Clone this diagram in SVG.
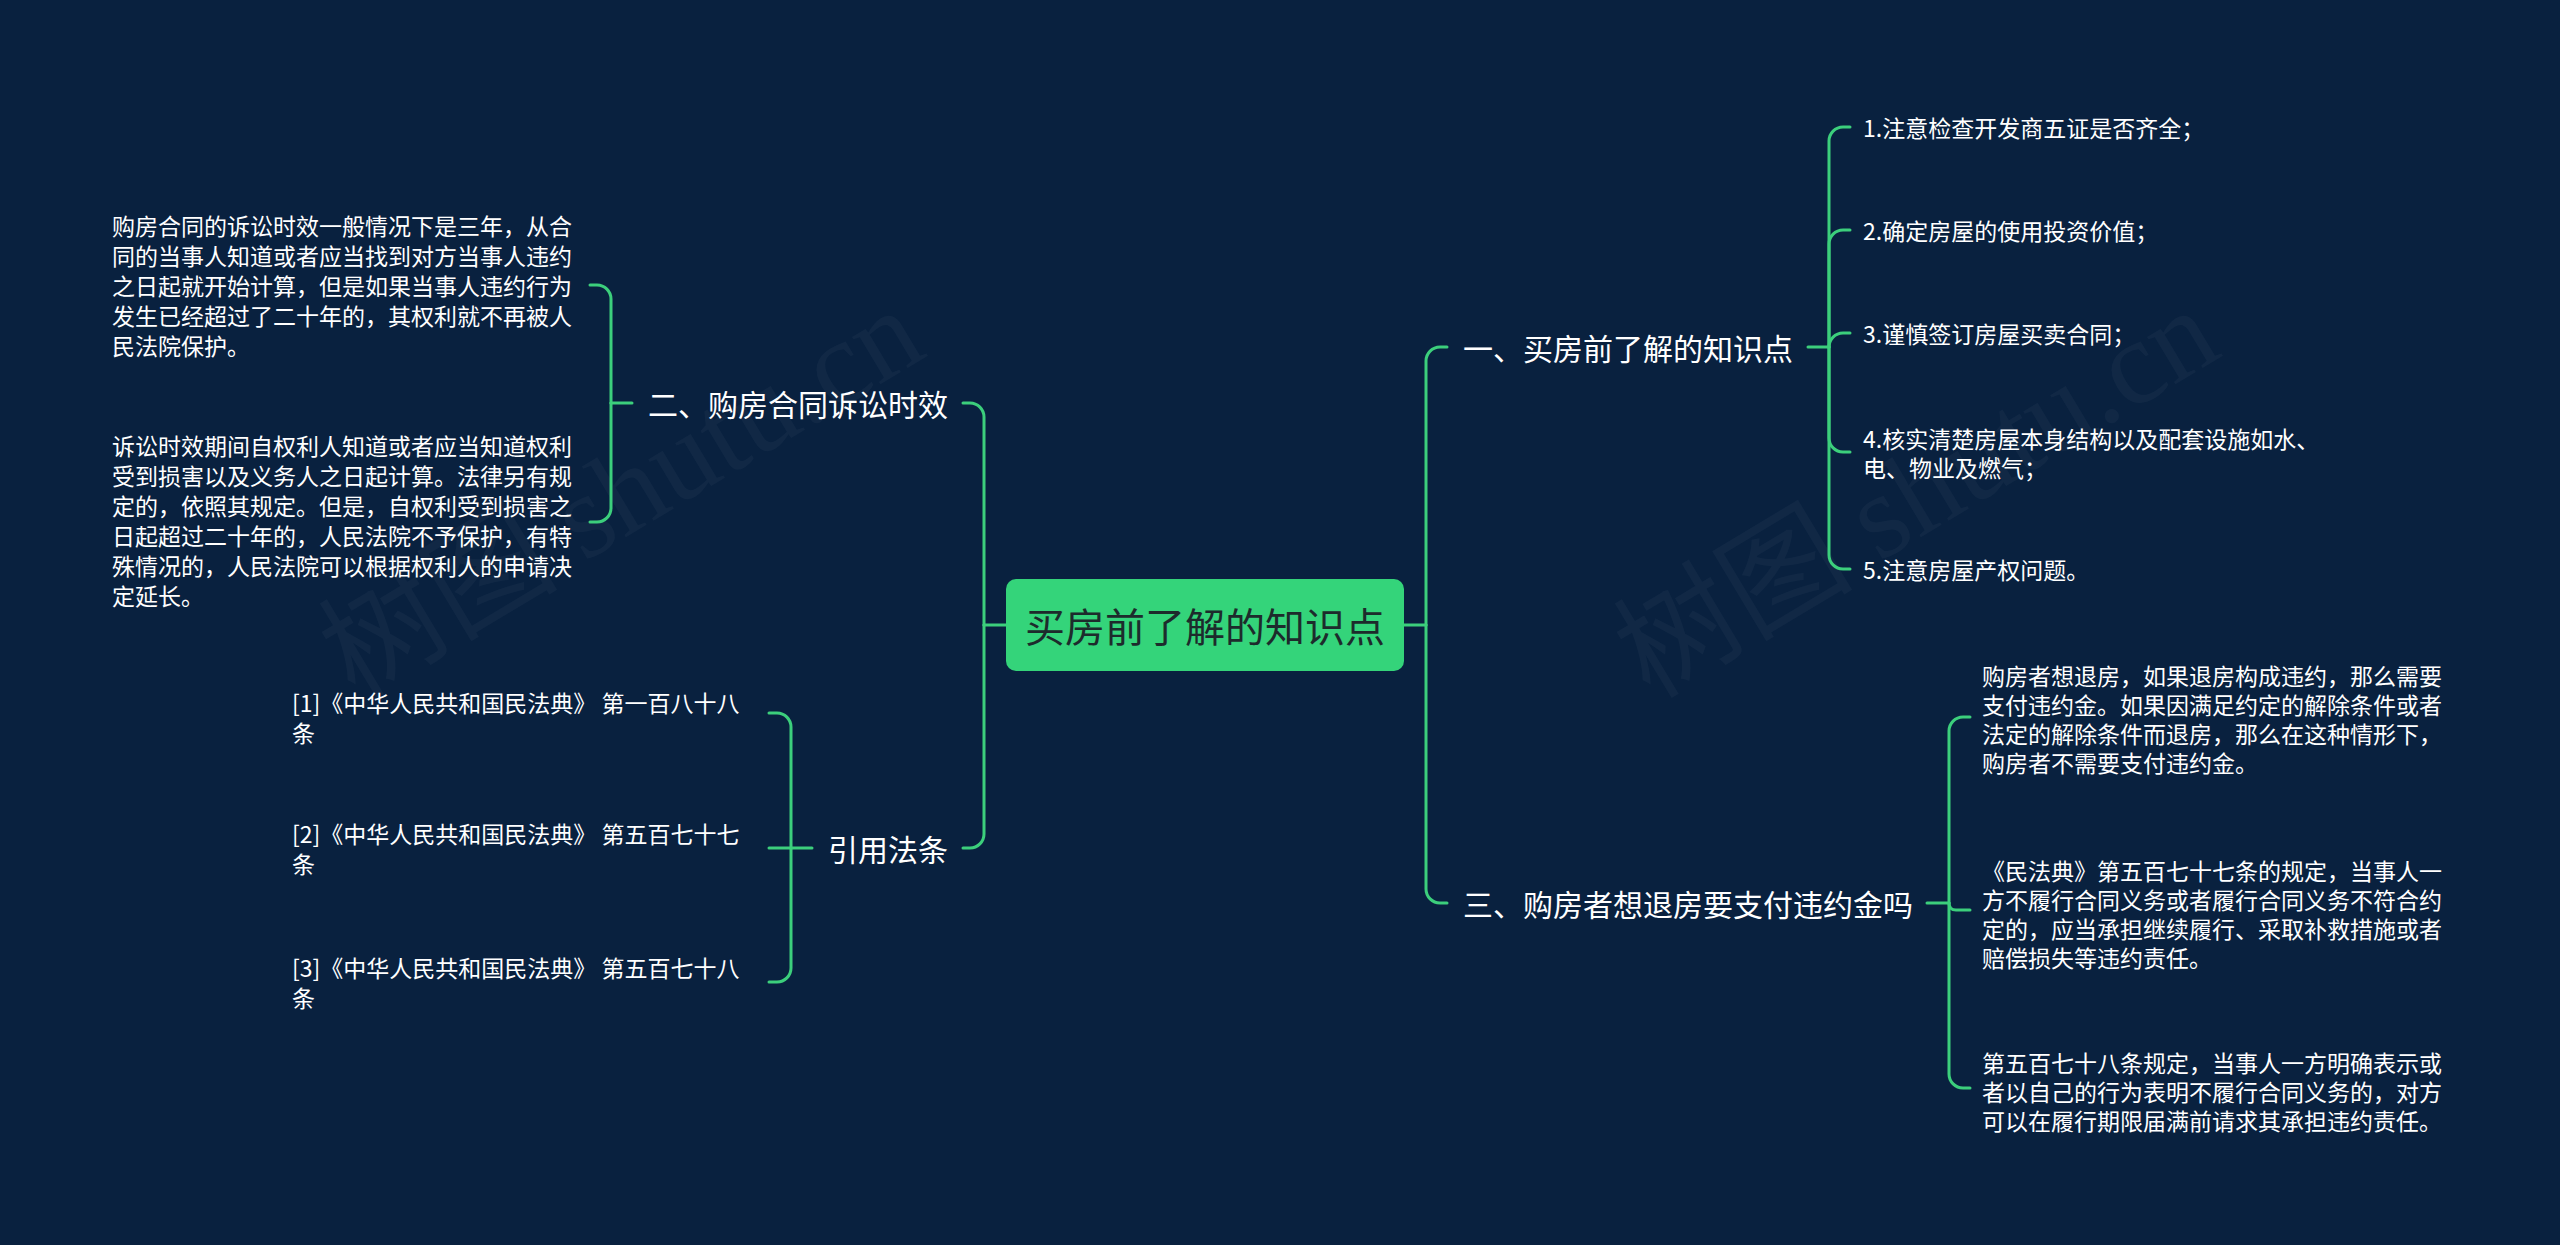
<svg xmlns="http://www.w3.org/2000/svg" width="2560" height="1245" viewBox="0 0 2560 1245">
<style>
.bg{fill:#09213f}
.wm{font-family:"Noto Sans CJK SC","Noto Sans",sans-serif;font-size:120px;fill:#ffffff;fill-opacity:0.035}
.wm tspan{font-family:"Liberation Serif",serif}
.root-box{fill:#34d47a}
.root-t{font-family:"Noto Sans CJK SC","Noto Sans",sans-serif;font-size:40px;fill:#1d2b2c;text-anchor:middle;dominant-baseline:central}
.br{font-family:"Noto Sans CJK SC","Noto Sans",sans-serif;font-size:30px;fill:#ffffff;dominant-baseline:central}
.lf{font-family:"Noto Sans CJK SC","Noto Sans",sans-serif;font-size:23px;fill:#ffffff;dominant-baseline:central}
.end{text-anchor:end}
.c{fill:none;stroke:#3ccf7c;stroke-width:3;stroke-linecap:round;stroke-linejoin:round}
</style>
<rect class="bg" x="0" y="0" width="2560" height="1245"/>
<g id="watermarks">
<text class="wm" x="355" y="700" transform="rotate(-31 355 700)">树图 <tspan>shutu.cn</tspan></text>
<text class="wm" x="1650" y="700" transform="rotate(-31 1650 700)">树图 <tspan>shutu.cn</tspan></text>
</g>
<g id="connectors">
<path class="c" d="M1404,625 H1426"/>
<path class="c" d="M1426,625 V361 A14,14 0 0 1 1440,347 H1447"/>
<path class="c" d="M1426,625 V889 A14,14 0 0 0 1440,903 H1447"/>
<path class="c" d="M1808,347 H1829"/>
<path class="c" d="M1829,347 V141 A14,14 0 0 1 1843,127 H1850"/>
<path class="c" d="M1829,347 V244 A14,14 0 0 1 1843,230 H1850"/>
<path class="c" d="M1829,347 A14,14 0 0 1 1843,333 H1850"/>
<path class="c" d="M1829,347 V438 A14,14 0 0 0 1843,452 H1850"/>
<path class="c" d="M1829,347 V555 A14,14 0 0 0 1843,569 H1850"/>
<path class="c" d="M1927,903 H1949"/>
<path class="c" d="M1949,903 V731 A14,14 0 0 1 1963,717 H1970"/>
<path class="c" d="M1949,903 Q1949,910 1956,910 H1970"/>
<path class="c" d="M1949,903 V1074 A14,14 0 0 0 1963,1088 H1970"/>
<path class="c" d="M1006,625 H984"/>
<path class="c" d="M984,625 V417 A14,14 0 0 0 970,403 H963"/>
<path class="c" d="M984,625 V834 A14,14 0 0 1 970,848 H963"/>
<path class="c" d="M632,403 H611"/>
<path class="c" d="M611,403 V299 A14,14 0 0 0 597,285 H590"/>
<path class="c" d="M611,403 V508 A14,14 0 0 1 597,522 H590"/>
<path class="c" d="M812,848 H791"/>
<path class="c" d="M791,848 V727 A14,14 0 0 0 777,713 H769"/>
<path class="c" d="M791,848 H769"/>
<path class="c" d="M791,848 V968 A14,14 0 0 1 777,982 H769"/>
</g>
<g id="root">
<rect class="root-box" x="1006" y="579" width="398" height="92" rx="10"/>
<text class="root-t" x="1205" y="625">买房前了解的知识点</text>
</g>
<g id="b1"><text class="br" x="1463" y="347">一、买房前了解的知识点</text></g>
<g id="b1-1"><text class="lf" x="1863" y="127">1.注意检查开发商五证是否齐全；</text></g>
<g id="b1-2"><text class="lf" x="1863" y="230">2.确定房屋的使用投资价值；</text></g>
<g id="b1-3"><text class="lf" x="1863" y="333">3.谨慎签订房屋买卖合同；</text></g>
<g id="b1-4"><text class="lf" x="1863" y="438">4.核实清楚房屋本身结构以及配套设施如水、</text><text class="lf" x="1863" y="467">电、物业及燃气；</text></g>
<g id="b1-5"><text class="lf" x="1863" y="569">5.注意房屋产权问题。</text></g>
<g id="b3"><text class="br" x="1463" y="903">三、购房者想退房要支付违约金吗</text></g>
<g id="b3-1">
<text class="lf" x="1982" y="675">购房者想退房，如果退房构成违约，那么需要</text>
<text class="lf" x="1982" y="704">支付违约金。如果因满足约定的解除条件或者</text>
<text class="lf" x="1982" y="733">法定的解除条件而退房，那么在这种情形下，</text>
<text class="lf" x="1982" y="762">购房者不需要支付违约金。</text>
</g>
<g id="b3-2">
<text class="lf" x="1982" y="870">《民法典》第五百七十七条的规定，当事人一</text>
<text class="lf" x="1982" y="899">方不履行合同义务或者履行合同义务不符合约</text>
<text class="lf" x="1982" y="928">定的，应当承担继续履行、采取补救措施或者</text>
<text class="lf" x="1982" y="957">赔偿损失等违约责任。</text>
</g>
<g id="b3-3">
<text class="lf" x="1982" y="1062">第五百七十八条规定，当事人一方明确表示或</text>
<text class="lf" x="1982" y="1091">者以自己的行为表明不履行合同义务的，对方</text>
<text class="lf" x="1982" y="1120">可以在履行期限届满前请求其承担违约责任。</text>
</g>
<g id="b2"><text class="br end" x="948" y="403">二、购房合同诉讼时效</text></g>
<g id="b2-1">
<text class="lf" x="112" y="225">购房合同的诉讼时效一般情况下是三年，从合</text>
<text class="lf" x="112" y="255">同的当事人知道或者应当找到对方当事人违约</text>
<text class="lf" x="112" y="285">之日起就开始计算，但是如果当事人违约行为</text>
<text class="lf" x="112" y="315">发生已经超过了二十年的，其权利就不再被人</text>
<text class="lf" x="112" y="345">民法院保护。</text>
</g>
<g id="b2-2">
<text class="lf" x="112" y="445">诉讼时效期间自权利人知道或者应当知道权利</text>
<text class="lf" x="112" y="475">受到损害以及义务人之日起计算。法律另有规</text>
<text class="lf" x="112" y="505">定的，依照其规定。但是，自权利受到损害之</text>
<text class="lf" x="112" y="535">日起超过二十年的，人民法院不予保护，有特</text>
<text class="lf" x="112" y="565">殊情况的，人民法院可以根据权利人的申请决</text>
<text class="lf" x="112" y="595">定延长。</text>
</g>
<g id="b4"><text class="br end" x="948" y="848">引用法条</text></g>
<g id="b4-1"><text class="lf" x="292" y="702">[1]《中华人民共和国民法典》 第一百八十八</text><text class="lf" x="292" y="732">条</text></g>
<g id="b4-2"><text class="lf" x="292" y="833">[2]《中华人民共和国民法典》 第五百七十七</text><text class="lf" x="292" y="863">条</text></g>
<g id="b4-3"><text class="lf" x="292" y="967">[3]《中华人民共和国民法典》 第五百七十八</text><text class="lf" x="292" y="997">条</text></g>
</svg>
